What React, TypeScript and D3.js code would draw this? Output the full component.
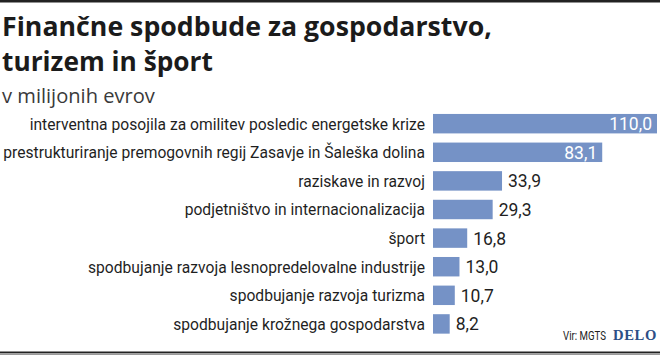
import React, { useLayoutEffect, useRef, useState } from "react";
import * as d3 from "d3";

const categories = [
  "interventna posojila za omilitev posledic energetske krize",
  "prestrukturiranje premogovnih regij Zasavje in Šaleška dolina",
  "raziskave in razvoj",
  "podjetništvo in internacionalizacija",
  "šport",
  "spodbujanje razvoja lesnopredelovalne industrije",
  "spodbujanje razvoja turizma",
  "spodbujanje krožnega gospodarstva",
];
const values = [110.0, 83.1, 33.9, 29.3, 16.8, 13.0, 10.7, 8.2];
const titleLines = ["Finančne spodbude za gospodarstvo,", "turizem in šport"];
const subtitle = "v milijonih evrov";
const source = "Vir: MGTS";
const brand = "DELO";

const W = 660;
const H = 355;
const BAR_X0 = 433;
const BAR_X1 = 657;
const BAR_COLOR = "#7592c6";
const fmt = (v: number) => v.toFixed(1).replace(".", ",");

export default function App() {
  const t1 = useRef<SVGTextElement>(null);
  const t2 = useRef<SVGTextElement>(null);
  const sub = useRef<SVGTextElement>(null);
  const lab = useRef<SVGTextElement>(null);
  const vir = useRef<SVGTextElement>(null);
  const delo = useRef<SVGTextElement>(null);
  const [fit, setFit] = useState({ t1: 1, t2: 1, sub: 1, lab: 1, vir: 1, delo: 1 });

  useLayoutEffect(() => {
    const m = (r: React.RefObject<SVGTextElement>, target: number) =>
      r.current ? target / r.current.getComputedTextLength() : 1;
    setFit({
      t1: m(t1, 490),
      t2: m(t2, 211),
      sub: m(sub, 153),
      lab: m(lab, 422),
      vir: m(vir, 43),
      delo: m(delo, 44),
    });
  }, []);

  const x = d3.scaleLinear().domain([0, 110]).range([BAR_X0, BAR_X1]);
  const y = d3
    .scaleBand<string>()
    .domain(categories)
    .range([104.8, 342.8])
    .paddingInner(0.32)
    .paddingOuter(0.32);

  const labelFont = "Roboto, 'DejaVu Sans', sans-serif";

  return (
    <svg
      width={W}
      height={H}
      style={{ position: "absolute", left: 0, top: 0, background: "#fff" }}
    >
      <rect x={0} y={0} width={W} height={2.5} fill="#222" />
      <g fontFamily="'Open Sans', sans-serif" fontWeight={700} fontSize={26} fill="#1b1b1b">
        <text ref={t1} transform={`translate(2,36) scale(${fit.t1},1)`}>
          {titleLines[0]}
        </text>
        <text ref={t2} transform={`translate(2,71) scale(${fit.t2},1)`}>
          {titleLines[1]}
        </text>
      </g>
      <text
        ref={sub}
        transform={`translate(2,102.5) scale(${fit.sub},1)`}
        fontFamily="'Open Sans', sans-serif"
        fontSize={20}
        fill="#3a3a3a"
      >
        {subtitle}
      </text>

      <g fontFamily={labelFont} fontSize={17} fill="#1f1f1f">
        {categories.map((c, i) => (
          <text
            key={c}
            ref={i === 1 ? lab : undefined}
            textAnchor="end"
            transform={`translate(425,${(y(c) as number) + y.bandwidth() / 2 + 6}) scale(${fit.lab},1)`}
          >
            {c}
          </text>
        ))}
      </g>

      {categories.map((c, i) => (
        <rect
          key={c}
          x={x(0)}
          y={y(c)}
          width={x(values[i]) - x(0)}
          height={y.bandwidth()}
          fill={BAR_COLOR}
        />
      ))}

      <g fontFamily={labelFont} fontSize={17.5}>
        {categories.map((c, i) => {
          const inside = values[i] > 60;
          return (
            <text
              key={c}
              x={inside ? x(values[i]) - 5 : x(values[i]) + 6}
              y={(y(c) as number) + y.bandwidth() / 2 + 6.5}
              textAnchor={inside ? "end" : "start"}
              fill={inside ? "#fff" : "#1f1f1f"}
            >
              {fmt(values[i])}
            </text>
          );
        })}
      </g>

      <text
        ref={vir}
        transform={`translate(606,340) scale(${fit.vir},1)`}
        textAnchor="end"
        fontFamily={labelFont}
        fontSize={12}
        fill="#222"
      >
        {source}
      </text>
      <text
        ref={delo}
        transform={`translate(657,340) scale(${fit.delo},1)`}
        textAnchor="end"
        fontFamily="'Liberation Serif', 'DejaVu Serif', serif"
        fontWeight={700}
        fontSize={14}
        fill="#2d4f86"
        letterSpacing={0.6}
      >
        {brand}
      </text>

      <rect x={0} y={351.5} width={W} height={1.6} fill="#222" />
      <rect x={0} y={353.1} width={W} height={1.9} fill="#9a9a9a" />
    </svg>
  );
}
